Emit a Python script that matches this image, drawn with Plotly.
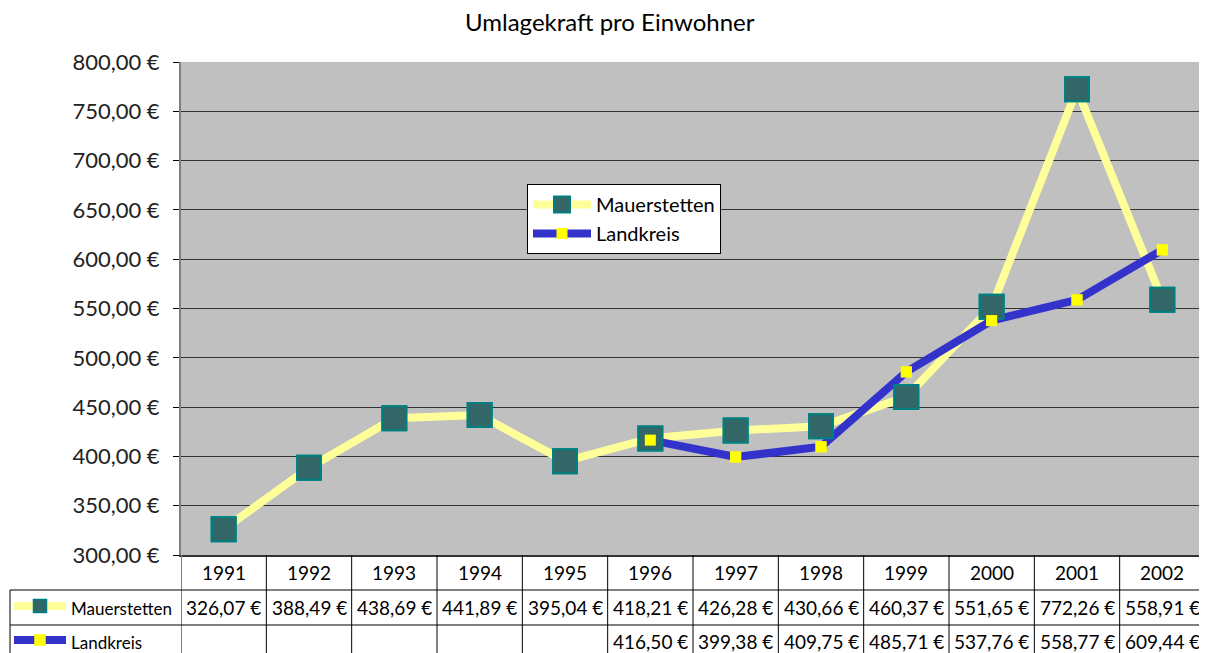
import plotly.graph_objects as go

years = ["1991", "1992", "1993", "1994", "1995", "1996", "1997", "1998", "1999", "2000", "2001", "2002"]
mauerstetten = [326.07, 388.49, 438.69, 441.89, 395.04, 418.21, 426.28, 430.66, 460.37, 551.65, 772.26, 558.91]
landkreis = [None, None, None, None, None, 416.50, 399.38, 409.75, 485.71, 537.76, 558.77, 609.44]
series_names = ["Mauerstetten", "Landkreis"]
title_text = "Umlagekraft pro Einwohner"
y_ticks = [300, 350, 400, 450, 500, 550, 600, 650, 700, 750, 800]

FONT = "Lato"
xs = list(range(len(years)))

def eur(v):
    return ("%.2f €" % v).replace(".", ",")

YELLOW_LINE = "#FFFF99"
TEAL_FILL = "#336666"
TEAL_EDGE = "#008080"
BLUE = "#3333CC"
YELLOW = "#FFFF00"

fig = go.Figure()
fig.add_trace(go.Scatter(
    x=xs, y=mauerstetten, name=series_names[0], mode="lines+markers",
    line=dict(color=YELLOW_LINE, width=8),
    marker=dict(symbol="square", size=24, color=TEAL_FILL, line=dict(color=TEAL_EDGE, width=2)),
))
fig.add_trace(go.Scatter(
    x=xs, y=landkreis, name=series_names[1], mode="lines+markers",
    line=dict(color=BLUE, width=8),
    marker=dict(symbol="square", size=11, color=YELLOW, line=dict(width=0)),
    connectgaps=False,
))
fig.add_trace(go.Scatter(
    x=xs, y=mauerstetten, mode="markers", showlegend=False,
    marker=dict(symbol="square", size=24, color=TEAL_FILL, line=dict(color=TEAL_EDGE, width=2)),
))
fig.add_trace(go.Scatter(
    x=xs, y=landkreis, mode="markers", showlegend=False,
    marker=dict(symbol="square", size=11, color=YELLOW, line=dict(width=0)),
))

# page body has an 8px margin: work in screenshot coordinates and subtract it
OFF = 8
W, H = 1207 - OFF, 653 - OFF
PL, PR, PT, PB = 181, 1205, 62, 555  # plot area in screenshot pixels
L, T = PL - OFF, PT - OFF
R = W - (PR - OFF)
B = H - (PB - OFF)
pw = PR - PL
ph = PB - PT

def px_x(px):
    return (px - PL) / pw

def px_y(py):
    return (PB - py) / ph

shapes = []
annotations = []
n = len(years)
for k in range(n + 1):
    shapes.append(dict(type="line", xref="x", yref="paper", x0=k - 0.5, x1=k - 0.5,
                       y0=0, y1=px_y(660),
                       line=dict(color="#808080" if k == 0 else "black", width=2 if k == 0 else 1)))
for py in (590, 625):
    shapes.append(dict(type="line", xref="paper", yref="paper", x0=px_x(10), x1=1,
                       y0=px_y(py), y1=px_y(py), line=dict(color="black", width=1)))
shapes.append(dict(type="line", xref="paper", yref="paper", x0=px_x(10), x1=px_x(10),
                   y0=px_y(590), y1=px_y(660), line=dict(color="black", width=1)))

for k, yr in enumerate(years):
    annotations.append(dict(x=k, y=px_y(572), xref="x", yref="paper", text=yr, showarrow=False,
                            xanchor="center", yanchor="middle",
                            font=dict(family=FONT, size=19, color="black")))
for k, v in enumerate(mauerstetten):
    annotations.append(dict(x=k, y=px_y(607), xref="x", yref="paper", text=eur(v), showarrow=False,
                            xanchor="center", yanchor="middle",
                            font=dict(family=FONT, size=19, color="black")))
for k, v in enumerate(landkreis):
    if v is not None:
        annotations.append(dict(x=k, y=px_y(641), xref="x", yref="paper", text=eur(v), showarrow=False,
                                xanchor="center", yanchor="middle",
                                font=dict(family=FONT, size=19, color="black")))

row_y = [606, 640]
line_cols = [YELLOW_LINE, BLUE]
sq_cols = [TEAL_FILL, YELLOW]
sq_edges = [TEAL_EDGE, YELLOW]
sq_half = [6.5, 5]
for i, name in enumerate(series_names):
    yy = row_y[i]
    shapes.append(dict(type="line", xref="paper", yref="paper", x0=px_x(14), x1=px_x(66),
                       y0=px_y(yy), y1=px_y(yy), line=dict(color=line_cols[i], width=8)))
    h = sq_half[i]
    shapes.append(dict(type="rect", xref="paper", yref="paper", x0=px_x(40 - h), x1=px_x(40 + h),
                       y0=px_y(yy + h), y1=px_y(yy - h), fillcolor=sq_cols[i],
                       line=dict(color=sq_edges[i], width=1.5)))
    annotations.append(dict(x=px_x(69), y=px_y(yy + 2), xref="paper", yref="paper", text=name,
                            showarrow=False, xanchor="left", yanchor="middle",
                            font=dict(family=FONT, size=17, color="black")))

annotations.append(dict(x=px_x(610), y=px_y(21), xref="paper", yref="paper", text=title_text,
                        showarrow=False, xanchor="center", yanchor="middle",
                        font=dict(family=FONT, size=24, color="black")))

fig.update_layout(
    width=W, height=H,
    margin=dict(l=L, r=R, t=T, b=B, autoexpand=False),
    paper_bgcolor="white",
    plot_bgcolor="#C0C0C0",
    xaxis=dict(range=[-0.5, n - 0.5], showticklabels=False, showgrid=False, zeroline=False,
               showline=True, linecolor="#333333", linewidth=2, mirror=False, ticks="",
               automargin=False),
    yaxis=dict(range=[300, 800], tickvals=y_ticks, ticktext=[eur(v) for v in y_ticks],
               showgrid=True, gridcolor="#333333", gridwidth=1, zeroline=False,
               showline=True, linecolor="#808080", linewidth=2, mirror=True,
               ticks="outside", ticklen=6, tickcolor="black", automargin=False,
               ticklabelstandoff=9,
               tickfont=dict(family=FONT, size=22, color="#222222")),
    legend=dict(x=px_x(527), y=px_y(184), xanchor="left", yanchor="top",
                bgcolor="white", bordercolor="black", borderwidth=1,
                font=dict(family=FONT, size=20, color="black"), itemwidth=58,
                tracegroupgap=0),
    shapes=shapes,
    annotations=annotations,
    showlegend=True,
)
fig.add_shape(type="line", xref="paper", yref="paper", x0=1, x1=1, y0=0, y1=1,
              line=dict(color="#808080", width=3))

fig.write_html("out.html")
